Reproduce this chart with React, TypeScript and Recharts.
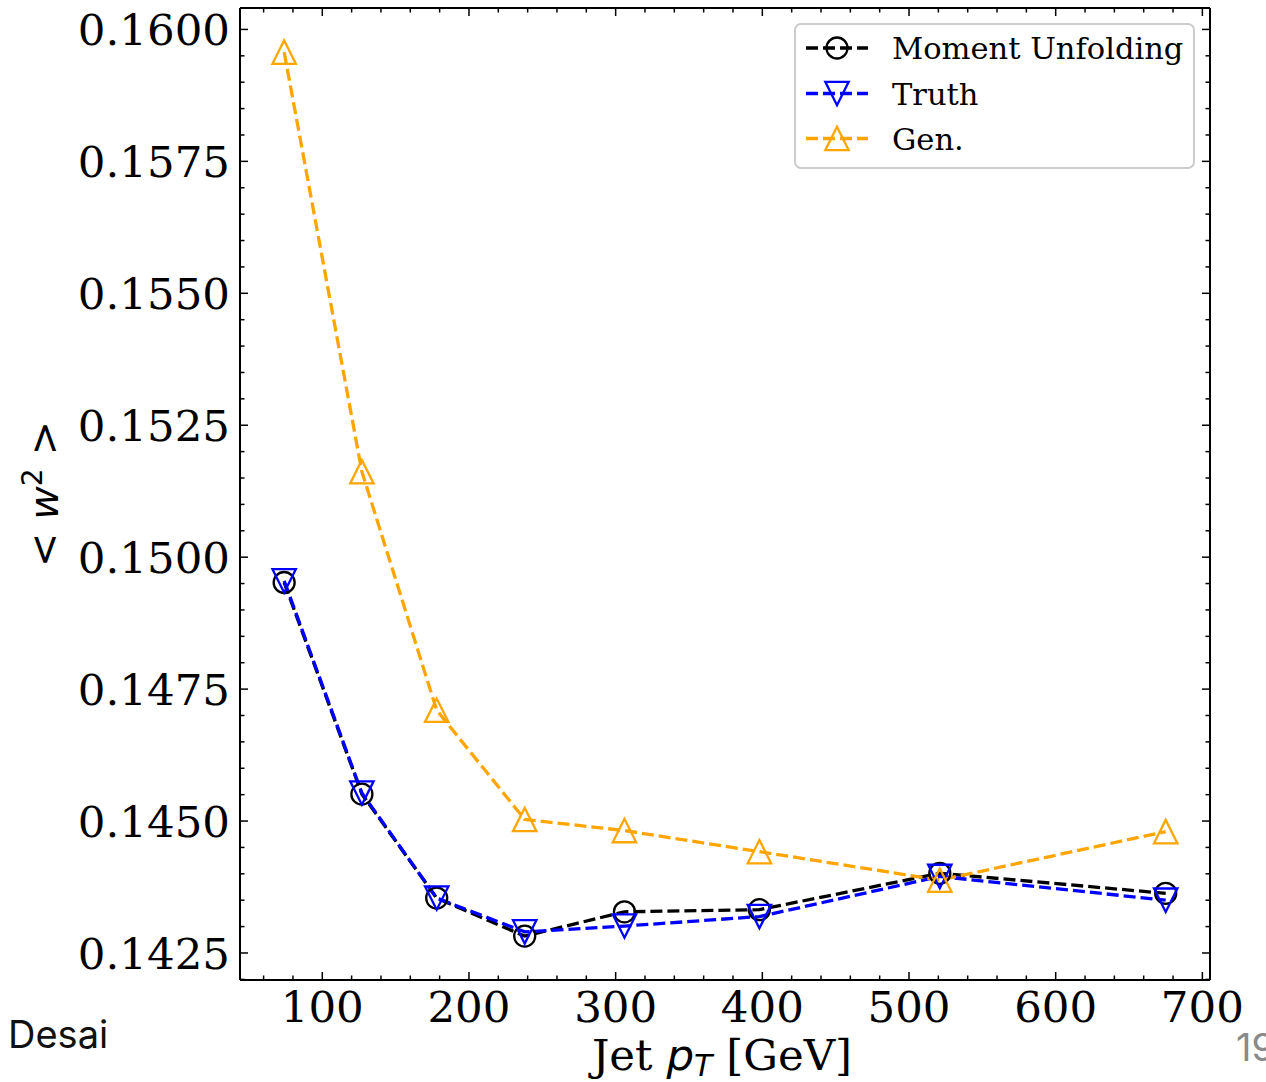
import { LineChart, Line, XAxis, YAxis } from 'recharts';

// jet pT bin centres [GeV]
const ptBins = [74, 127, 178, 238, 306, 398, 521, 675];
const momentUnfolding = [0.14952, 0.14551, 0.14354, 0.14282, 0.14328, 0.14332, 0.14401, 0.14363];
const truth = [0.14955, 0.14553, 0.14354, 0.1429, 0.14301, 0.14319, 0.14395, 0.1435];
const gen = [0.15957, 0.15162, 0.1471, 0.14503, 0.14482, 0.14442, 0.14388, 0.1448];

const xMajorTicks = [100, 200, 300, 400, 500, 600, 700];
const yMajorTicks = [0.1425, 0.145, 0.1475, 0.15, 0.1525, 0.155, 0.1575, 0.16];

const X_DOMAIN = [43.9, 705.2];
const Y_DOMAIN = [0.141988, 0.160406];

// minor ticks: 5 per major interval
const xTicks: number[] = [];
for (let v = 60; v <= 700; v += 20) xTicks.push(v);
const yTicks: number[] = [];
for (let k = 284; k <= 320; k++) yTicks.push(k / 2000);

const isXMajor = (v: number) => xMajorTicks.includes(v);
const isYMajor = (v: number) => yMajorTicks.some((m) => Math.abs(m - v) < 1e-7);

const data = ptBins.map((pt, i) => ({
  pt,
  mu: momentUnfolding[i],
  truth: truth[i],
  gen: gen[i],
}));

const SERIF = '"DejaVu Serif", serif';
const SANS = '"DejaVu Sans", sans-serif';
const MAJ = 8;
const MIN = 4.5;
const FS = 43.5;

const BottomTick = (p: any) => {
  const v = p.payload.value;
  const major = isXMajor(v);
  return (
    <g>
      <line x1={p.x} x2={p.x} y1={p.y} y2={p.y - (major ? MAJ : MIN)} stroke="#000" strokeWidth={1.5} />
      {major && (
        <text x={p.x} y={p.y + 42} textAnchor="middle" fontFamily={SERIF} fontSize={FS} fill="#000">
          {v}
        </text>
      )}
    </g>
  );
};

const TopTick = (p: any) => {
  const major = isXMajor(p.payload.value);
  return <line x1={p.x} x2={p.x} y1={p.y} y2={p.y + (major ? MAJ : MIN)} stroke="#000" strokeWidth={1.5} />;
};

const LeftTick = (p: any) => {
  const v = p.payload.value;
  const major = isYMajor(v);
  return (
    <g>
      <line x1={p.x} x2={p.x + (major ? MAJ : MIN)} y1={p.y} y2={p.y} stroke="#000" strokeWidth={1.5} />
      {major && (
        <text x={p.x - 10} y={p.y + 16} textAnchor="end" fontFamily={SERIF} fontSize={FS} fill="#000">
          {v.toFixed(4)}
        </text>
      )}
    </g>
  );
};

const RightTick = (p: any) => {
  const major = isYMajor(p.payload.value);
  return <line x1={p.x} x2={p.x - (major ? MAJ : MIN)} y1={p.y} y2={p.y} stroke="#000" strokeWidth={1.5} />;
};

const circleDot = (p: any) => (
  <circle key={`c-${p.index}`} cx={p.cx} cy={p.cy} r={10.5} fill="none" stroke="#000" strokeWidth={2.3} />
);

const triDown = (cx: number, cy: number, h = 11.7) =>
  `${cx - h},${cy - h} ${cx + h},${cy - h} ${cx},${cy + h}`;
const triUp = (cx: number, cy: number, h = 11.7) =>
  `${cx - h},${cy + h} ${cx + h},${cy + h} ${cx},${cy - h}`;

const downDot = (p: any) => (
  <polygon key={`d-${p.index}`} points={triDown(p.cx, p.cy)} fill="none" stroke="#0000ff" strokeWidth={2.3} />
);
const upDot = (p: any) => (
  <polygon key={`u-${p.index}`} points={triUp(p.cx, p.cy)} fill="none" stroke="#ffa500" strokeWidth={2.3} />
);

const DASH = '12 5';
const LW = 3.3;
const axisLine = { stroke: '#000', strokeWidth: 2 };

const legendRows = [
  { label: 'Moment Unfolding', color: '#000000', marker: 'circle', y: 48 },
  { label: 'Truth', color: '#0000ff', marker: 'down', y: 93.5 },
  { label: 'Gen.', color: '#ffa500', marker: 'up', y: 138.5 },
];

export default function App() {
  return (
    <div style={{ position: 'absolute', left: 0, top: 0, width: 1266, height: 1082, background: '#fff' }}>
      <LineChart width={1266} height={1082} data={data} margin={{ top: 7, right: 55, bottom: 0, left: 0 }}>
        <XAxis
          xAxisId="bottom"
          dataKey="pt"
          type="number"
          domain={X_DOMAIN}
          allowDataOverflow
          ticks={xTicks}
          interval={0}
          height={102}
          tickSize={0}
          tickMargin={0}
          tickLine={false}
          axisLine={axisLine}
          tick={BottomTick}
        />
        <XAxis
          xAxisId="top"
          orientation="top"
          dataKey="pt"
          type="number"
          domain={X_DOMAIN}
          allowDataOverflow
          ticks={xTicks}
          interval={0}
          height={1}
          tickSize={0}
          tickMargin={0}
          tickLine={false}
          axisLine={axisLine}
          tick={TopTick}
        />
        <YAxis
          yAxisId="left"
          type="number"
          domain={Y_DOMAIN}
          allowDataOverflow
          ticks={yTicks}
          interval={0}
          width={240}
          tickSize={0}
          tickMargin={0}
          tickLine={false}
          axisLine={axisLine}
          tick={LeftTick}
        />
        <YAxis
          yAxisId="right"
          orientation="right"
          type="number"
          domain={Y_DOMAIN}
          allowDataOverflow
          ticks={yTicks}
          interval={0}
          width={1}
          tickSize={0}
          tickMargin={0}
          tickLine={false}
          axisLine={axisLine}
          tick={RightTick}
        />
        {/* invisible series so the mirrored frame axes are registered */}
        <Line
          xAxisId="top"
          yAxisId="right"
          dataKey="mu"
          stroke="none"
          dot={false}
          activeDot={false}
          legendType="none"
          isAnimationActive={false}
        />
        <Line
          xAxisId="bottom"
          yAxisId="left"
          dataKey="mu"
          stroke="#000"
          strokeWidth={LW}
          strokeDasharray={DASH}
          dot={circleDot}
          activeDot={false}
          isAnimationActive={false}
        />
        <Line
          xAxisId="bottom"
          yAxisId="left"
          dataKey="truth"
          stroke="#0000ff"
          strokeWidth={LW}
          strokeDasharray={DASH}
          dot={downDot}
          activeDot={false}
          isAnimationActive={false}
        />
        <Line
          xAxisId="bottom"
          yAxisId="left"
          dataKey="gen"
          stroke="#ffa500"
          strokeWidth={LW}
          strokeDasharray={DASH}
          dot={upDot}
          activeDot={false}
          isAnimationActive={false}
        />
      </LineChart>

      <svg
        width={1266}
        height={1082}
        style={{ position: 'absolute', left: 0, top: 0, pointerEvents: 'none' }}
      >
        {/* legend */}
        <rect x={795} y={24} width={399} height={144} rx={6} fill="#fff" fillOpacity={0.8} stroke="#cccccc" strokeWidth={2} />
        {legendRows.map((r) => (
          <g key={r.label}>
            <line x1={806} x2={868} y1={r.y} y2={r.y} stroke={r.color} strokeWidth={LW} strokeDasharray={DASH} />
            {r.marker === 'circle' && <circle cx={837} cy={r.y} r={10.5} fill="none" stroke={r.color} strokeWidth={2.3} />}
            {r.marker === 'down' && <polygon points={triDown(837, r.y)} fill="none" stroke={r.color} strokeWidth={2.3} />}
            {r.marker === 'up' && <polygon points={triUp(837, r.y)} fill="none" stroke={r.color} strokeWidth={2.3} />}
            <text x={892} y={r.y + 11} fontFamily={SERIF} fontSize={30.5} fill="#000">
              {r.label}
            </text>
          </g>
        ))}

        {/* axis labels */}
        <text x={722} y={1070} textAnchor="middle" fontFamily={SERIF} fontSize={FS} fill="#000">
          Jet{' '}
          <tspan fontFamily={SANS} fontStyle="italic">p</tspan>
          <tspan fontFamily={SANS} fontStyle="italic" fontSize={30} dy={6}>T</tspan>
          <tspan dy={-6}> [GeV]</tspan>
        </text>
        <text
          x={58}
          y={494}
          transform="rotate(-90 58 494)"
          textAnchor="middle"
          fontFamily={SANS}
          fontSize={41}
          fill="#000"
        >
          {'< '}
          <tspan fontStyle="italic">w</tspan>
          <tspan fontSize={28} dy={-16}>2</tspan>
          <tspan dy={16}>{' >'}</tspan>
        </text>

        {/* slide footer */}
        <text x={8} y={1048} fontFamily="Inter, sans-serif" fontSize={38} fill="#111">
          Desai
        </text>
        <text x={1236} y={1061} fontFamily="Inter, sans-serif" fontSize={38} fill="#8a8a8a">
          19
        </text>
      </svg>
    </div>
  );
}
